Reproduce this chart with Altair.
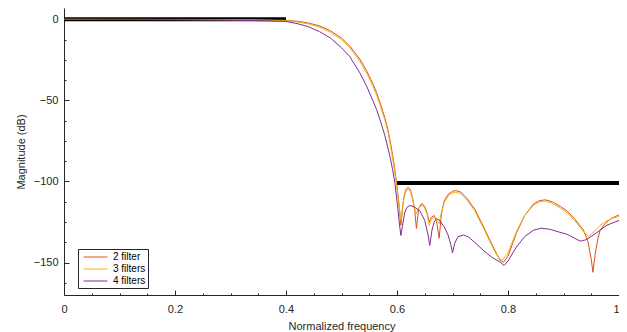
import altair as alt
import pandas as pd

# ---- data ----
x_major = [0, 0.2, 0.4, 0.6, 0.8, 1]
x_minor = [0.05, 0.1, 0.15, 0.25, 0.3, 0.35, 0.45, 0.5, 0.55, 0.65, 0.7, 0.75, 0.85, 0.9, 0.95]
y_major = [-150, -100, -50, 0]
y_minor = [-162.5, -137.5, -125, -112.5, -87.5, -75, -62.5, -37.5, -25, -12.5]

spec_x = [0, 0.4, 0.6, 1]
spec_y = [0, 0, -101, -101]
spec_seg = ["pass", "pass", "stop", "stop"]

f2_x = [0, 0.1, 0.2, 0.3, 0.35, 0.4, 0.42, 0.44, 0.46, 0.48, 0.5, 0.515, 0.533, 0.545, 0.557,
        0.563, 0.569, 0.578, 0.584, 0.590, 0.595, 0.599, 0.603, 0.607, 0.612, 0.616, 0.620,
        0.624, 0.628, 0.632, 0.635, 0.639, 0.643, 0.646, 0.650, 0.654, 0.658, 0.662, 0.667,
        0.671, 0.676, 0.680, 0.685, 0.692, 0.700, 0.706, 0.715, 0.725, 0.740, 0.756, 0.770,
        0.780, 0.786, 0.792, 0.800, 0.815, 0.830, 0.846, 0.857, 0.867, 0.880, 0.895, 0.906,
        0.920, 0.936, 0.944, 0.950, 0.953, 0.957, 0.962, 0.966, 0.975, 0.985, 1.0]
f2_y = [0, 0, -0.05, -0.15, -0.3, -0.6, -1.2, -2.2, -4.0, -7.0, -11.5, -16.5, -24.5, -31.5, -40,
        -45, -51, -60.5, -68.5, -79.5, -90, -100.4, -112, -127, -110, -105, -103.5,
        -105, -110, -118, -129, -117, -114, -113.8, -115.5, -119, -125, -122, -121,
        -124, -135, -120, -112, -108, -106, -105.6, -106.5, -110, -117, -128, -138,
        -145, -148.8, -149.8, -146, -132, -121, -113.8, -111.8, -111.3, -112.5, -115.5, -118,
        -123, -130, -137, -148, -156, -145, -135, -130, -126, -123, -120.5]

f3_x = [0, 0.1, 0.2, 0.3, 0.35, 0.4, 0.42, 0.44, 0.46, 0.48, 0.5, 0.515, 0.533, 0.545, 0.557,
        0.563, 0.569, 0.578, 0.584, 0.590, 0.595, 0.599, 0.603, 0.607, 0.612, 0.616, 0.620,
        0.624, 0.628, 0.632, 0.635, 0.639, 0.643, 0.646, 0.650, 0.654, 0.658, 0.662, 0.667,
        0.671, 0.676, 0.680, 0.685, 0.692, 0.700, 0.706, 0.715, 0.725, 0.740, 0.756, 0.770,
        0.780, 0.786, 0.790, 0.800, 0.815, 0.830, 0.846, 0.857, 0.867, 0.880, 0.895, 0.906,
        0.920, 0.936, 0.945, 0.955, 0.966, 0.975, 0.985, 1.0]
f3_y = [0, -0.05, -0.1, -0.25, -0.45, -0.8, -1.6, -2.8, -4.8, -8.0, -12.5, -17.5, -25.8, -33, -41.5,
        -46.5, -52.5, -62, -70, -81.5, -92, -101.5, -113, -124, -111, -106, -104.5,
        -106, -111, -117, -120, -116.5, -115, -115, -116.5, -120, -127, -123, -122,
        -124, -126, -119, -113, -109, -107, -106.6, -107.5, -111, -118, -129, -139,
        -145.5, -148, -148.5, -144, -131, -121, -114.5, -112.5, -112, -113.5, -116.5, -119,
        -124, -131, -134, -131, -127, -125, -123, -121.5]

f4_x = [0, 0.1, 0.2, 0.3, 0.35, 0.4, 0.42, 0.44, 0.46, 0.48, 0.5, 0.515, 0.533, 0.545, 0.557,
        0.563, 0.569, 0.578, 0.587, 0.592, 0.596, 0.601, 0.605, 0.607, 0.610, 0.614, 0.618,
        0.623, 0.630, 0.641, 0.650, 0.656, 0.659, 0.663, 0.667, 0.671, 0.677, 0.685, 0.692,
        0.697, 0.700, 0.704, 0.710, 0.720, 0.730, 0.740, 0.756, 0.770, 0.786, 0.793, 0.800,
        0.815, 0.830, 0.846, 0.860, 0.876, 0.890, 0.906, 0.920, 0.930, 0.940, 0.954, 0.966,
        0.978, 1.0]
f4_y = [0, -0.1, -0.2, -0.45, -0.8, -1.3, -2.6, -4.5, -7.5, -11.5, -17.5, -23, -33, -41, -50.5,
        -55.5, -61.5, -71.5, -84, -92.5, -100.4, -115, -128, -133.3, -127, -119, -116,
        -114.8, -115.5, -118, -124, -133, -139.5, -130, -125, -123, -124, -128, -133,
        -139, -144, -138, -134, -133, -134.5, -137.5, -142.6, -146.5, -149.8, -151.8, -149,
        -140.5, -134, -130, -128.8, -129.5, -131, -132.5, -135, -136.8, -136, -133, -130,
        -127, -124]

names = ["2 filter", "3 filters", "4 filters"]
colors = ["#D95319", "#EDB120", "#7E2F8E"]

rows = []
for name, xs, ys in [(names[0], f2_x, f2_y), (names[1], f3_x, f3_y), (names[2], f4_x, f4_y)]:
    for i, (a, b) in enumerate(zip(xs, ys)):
        rows.append({"f": a, "mag": b, "series": name, "order": i})
curves = pd.DataFrame(rows)
spec = pd.DataFrame({"f": spec_x, "mag": spec_y, "seg": spec_seg})

FONT = "Liberation Sans"
DARK = "#262626"
xscale = alt.Scale(domain=[0, 1], nice=False, zero=False)
yscale = alt.Scale(domain=[-170, 7], nice=False, zero=False)

# layer 1: black spec lines, carries domain + labels + titles
spec_layer = alt.Chart(spec).mark_line(color="black", strokeWidth=4, clip=True).encode(
    x=alt.X("f:Q", scale=xscale, axis=alt.Axis(
        orient="bottom", values=x_major, format="~g", ticks=False, tickSize=0,
        labelPadding=8, title="Normalized frequency", titlePadding=6,
        labelOffset={"condition": {"test": "datum.value === 1", "value": -3}, "value": 0},
        domainColor=DARK, labelColor=DARK, titleColor=DARK, grid=False,
        labelFont=FONT, titleFont=FONT, labelFontSize=11, titleFontSize=11,
        titleFontWeight="normal", labelFlush=False)),
    y=alt.Y("mag:Q", scale=yscale, axis=alt.Axis(
        orient="left", values=y_major, ticks=False, tickSize=0, labelPadding=6,
        title="Magnitude (dB)", titlePadding=7,
        domainColor=DARK, labelColor=DARK, titleColor=DARK, grid=False,
        labelFont=FONT, titleFont=FONT, labelFontSize=11, titleFontSize=11,
        titleFontWeight="normal")),
    detail="seg:N",
)

# layer 2: filter curves, carries inward major ticks
curve_layer = alt.Chart(curves).mark_line(strokeWidth=1, clip=True).encode(
    x=alt.X("f:Q", scale=xscale, axis=alt.Axis(
        orient="bottom", values=x_major, labels=False, domain=False, grid=False,
        tickSize=5, offset=-5, tickColor=DARK, title=None)),
    y=alt.Y("mag:Q", scale=yscale, axis=alt.Axis(
        orient="left", values=y_major, labels=False, domain=False, grid=False,
        tickSize=5, offset=-5, tickColor=DARK, title=None)),
    color=alt.Color("series:N", scale=alt.Scale(domain=names, range=colors),
                    legend=alt.Legend(
                        title=None, orient="none", legendX=14, legendY=241,
                        strokeColor=DARK, fillColor="white", padding=2,
                        symbolType="M-0.45,0H3.9", symbolSize=121,
                        symbolStrokeWidth=1, labelOffset=21, rowPadding=1,
                        labelFont=FONT, labelFontSize=10, labelColor="black")),
    order="order:Q",
)

# layer 3: invisible copy of spec, carries inward minor ticks
minor_layer = alt.Chart(spec).mark_line(strokeOpacity=0).encode(
    x=alt.X("f:Q", scale=xscale, axis=alt.Axis(
        orient="bottom", values=x_minor, labels=False, domain=False, grid=False,
        tickSize=2, offset=-2, tickColor=DARK, title=None)),
    y=alt.Y("mag:Q", scale=yscale, axis=alt.Axis(
        orient="left", values=y_minor, labels=False, domain=False, grid=False,
        tickSize=2, offset=-2, tickColor=DARK, title=None)),
    detail="seg:N",
)

chart = alt.layer(spec_layer, curve_layer, minor_layer).resolve_axis(
    x="independent", y="independent"
).properties(
    width=555, height=287,
    autosize=alt.AutoSizeParams(type="none"),
    padding={"left": 56, "top": 0, "right": 0, "bottom": 37},
).configure_view(strokeWidth=0)

chart.save("out.html", embed_options={"renderer": "svg", "actions": False})
